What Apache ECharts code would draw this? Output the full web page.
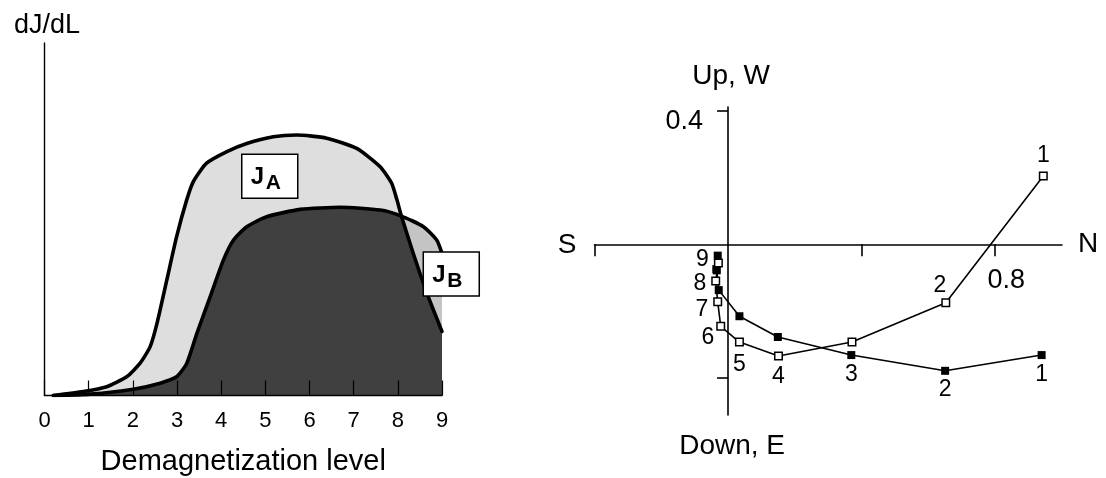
<!DOCTYPE html>
<html>
<head>
<meta charset="utf-8">
<script src="https://cdn.jsdelivr.net/npm/echarts@6/dist/echarts.min.js"></script>
<style>
  html, body { margin: 0; padding: 0; background: #fff; }
  #chart { width: 1106px; height: 478px; }
</style>
</head>
<body>
<div id="chart"></div>
<script>
// ---- Left panel: dJ/dL spectra of the two components vs demagnetization level
const demagTicks = ['0', '1', '2', '3', '4', '5', '6', '7', '8', '9'];
const curveA = [
  [0.2, 0], [0.88, 1.1], [1.41, 2.5], [1.86, 5.3], [2.16, 9.1], [2.39, 13.8],
  [2.54, 20.1], [2.77, 32.8], [2.99, 45.0], [3.22, 55.5], [3.37, 60.7], [3.67, 65.9],
  [4.13, 69.2], [4.58, 71.5], [5.18, 73.4], [5.71, 73.9], [6.39, 73.0], [7.07, 70.1],
  [7.60, 64.9], [7.86, 60.2], [7.98, 55.5], [8.08, 50.9], [8.35, 40.3], [8.66, 29.0],
  [9.0, 18.2]
];
const curveB = [
  [0.2, 0], [1.03, 0.4], [2.01, 1.8], [2.62, 3.5], [2.99, 5.3], [3.22, 9.1],
  [3.45, 17.6], [3.75, 28.0], [4.05, 38.4], [4.28, 44.1], [4.58, 47.9], [5.03, 50.7],
  [5.79, 52.8], [6.70, 53.4], [7.60, 52.6], [8.08, 50.9], [8.58, 47.9], [8.88, 44.1],
  [9.0, 40.3]
];

// ---- Right panel: orthogonal projection of the demagnetization steps
const stepNames = ['1', '2', '3', '4', '5', '6', '7', '8', '9'];
const openNorth  = [0.944, 0.652, 0.371, 0.151, 0.034, -0.022, -0.031, -0.037, -0.029];
const openUp     = [0.204, -0.175, -0.292, -0.334, -0.292, -0.245, -0.172, -0.110, -0.056];
const filledNorth = [0.939, 0.650, 0.369, 0.149, 0.034, -0.028, -0.034, -0.035, -0.031];
const filledUp    = [-0.331, -0.378, -0.331, -0.277, -0.215, -0.137, -0.078, -0.074, -0.034];
const northTickLabels = ['0.8'];
const upTickLabels = ['0.4'];

const FONT = '"Liberation Sans", Arial, Helvetica, sans-serif';
const INK = '#000';

// where each step number sits next to its square
const openLabelLayout = {
  '1': { position: 'top' },
  '2': { position: 'top', offset: [-6, 3] },
  '4': { position: 'bottom' },
  '5': { position: 'bottom', offset: [0, 2] },
  '6': { position: 'left', offset: [3, 11] },
  '7': { position: 'left', offset: [0, 8] },
  '8': { position: 'left', offset: [0, 3] },
  '9': { position: 'left', offset: [0, -3] }
};
const filledLabelLayout = {
  '1': { position: 'bottom' },
  '2': { position: 'bottom', offset: [0, -1] },
  '3': { position: 'bottom' }
};

function stepSeriesData(xs, ys, layout) {
  return xs.map((x, i) => {
    const name = stepNames[i];
    const item = { name: name, value: [x, ys[i]] };
    if (layout[name]) {
      item.label = Object.assign({ show: true }, layout[name]);
    }
    return item;
  });
}

// region of J_B lying outside J_A: right of the point where the outlines cross
function outsideBand(api) {
  const key = p => p[0] + ',' + p[1];
  const aKeys = new Set(curveA.map(key));
  let crossIdxB = curveB.length - 1;
  while (crossIdxB > 0 && !aKeys.has(key(curveB[crossIdxB]))) crossIdxB--;
  const cross = curveB[crossIdxB];
  const crossIdxA = curveA.findIndex(p => key(p) === key(cross));
  const upper = curveB.slice(crossIdxB);
  const lower = curveA.slice(crossIdxA).reverse();
  return upper.concat(lower).map(p => api.coord(p));
}

const chart = echarts.init(document.getElementById('chart'), null, { renderer: 'canvas' });

const stepLabelStyle = {
  show: false,
  formatter: '{b}',
  color: INK,
  fontFamily: FONT,
  fontSize: 23,
  lineHeight: 22,
  distance: 5
};

const option = {
  animation: false,
  backgroundColor: '#fff',
  textStyle: { fontFamily: FONT, color: INK },
  grid: [
    { left: 44.5, top: 43, width: 397.5, height: 352.5, containLabel: false, outerBoundsMode: 'none' },
    { left: 594.5, top: 107, width: 467.5, height: 308, containLabel: false, outerBoundsMode: 'none' }
  ],
  xAxis: [
    {
      gridIndex: 0, type: 'value', min: 0, max: 9, interval: 1, z: 10,
      name: 'Demagnetization level', nameLocation: 'middle', nameGap: 52,
      nameMoveOverlap: false,
      nameTextStyle: { fontFamily: FONT, fontSize: 29, lineHeight: 29, color: INK },
      axisLine: { show: true, onZero: false, lineStyle: { color: INK, width: 1.4 } },
      axisTick: { show: true, inside: true, length: 15, lineStyle: { color: INK, width: 1.2 } },
      axisLabel: {
        margin: 14, fontFamily: FONT, fontSize: 22, lineHeight: 22, color: INK,
        formatter: v => demagTicks[Math.round(v)]
      },
      splitLine: { show: false }
    },
    {
      gridIndex: 1, type: 'value', min: -0.4, max: 1.0, z: 10,
      name: 'N', nameLocation: 'end', nameGap: 16, nameMoveOverlap: false,
      nameTextStyle: { fontFamily: FONT, fontSize: 28, color: INK, verticalAlign: 'middle', padding: [4, 0, 0, 0] },
      axisLine: { show: true, onZero: true, lineStyle: { color: INK, width: 1.6 } },
      axisTick: { show: true, inside: false, length: 12, customValues: [-0.4, 0.4, 0.8], lineStyle: { color: INK, width: 1.6 } },
      axisLabel: { show: false },
      splitLine: { show: false }
    }
  ],
  yAxis: [
    {
      gridIndex: 0, type: 'value', min: 0, max: 100, z: 10,
      name: 'dJ/dL', nameLocation: 'end', nameGap: 4, nameMoveOverlap: false,
      nameTextStyle: { fontFamily: FONT, fontSize: 27, lineHeight: 27, color: INK, align: 'center', padding: [0, 0, 0, 5] },
      axisLine: { show: true, onZero: false, lineStyle: { color: INK, width: 1.4 } },
      axisTick: { show: false },
      axisLabel: { show: false },
      splitLine: { show: false }
    },
    {
      gridIndex: 1, type: 'value', min: -0.51, max: 0.41, z: 10,
      name: 'Up, W', nameLocation: 'end', nameGap: 16, nameMoveOverlap: false,
      nameTextStyle: { fontFamily: FONT, fontSize: 28, lineHeight: 30, color: INK, align: 'center', padding: [0, 0, 0, 6] },
      axisLine: { show: true, onZero: true, lineStyle: { color: INK, width: 1.6 } },
      axisTick: { show: true, inside: false, length: 11, customValues: [-0.4, 0.4], lineStyle: { color: INK, width: 1.6 } },
      axisLabel: { show: false },
      splitLine: { show: false }
    }
  ],
  series: [
    // fills of the two spectra
    {
      type: 'line', xAxisIndex: 0, yAxisIndex: 0, data: curveA, z: 1,
      showSymbol: false, symbol: 'none', smooth: 0.2, silent: true,
      lineStyle: { width: 0, opacity: 0 },
      areaStyle: { color: '#dedede', opacity: 1 }
    },
    {
      type: 'line', xAxisIndex: 0, yAxisIndex: 0, data: curveB, z: 2,
      showSymbol: false, symbol: 'none', smooth: 0.2, silent: true,
      lineStyle: { width: 0, opacity: 0 },
      areaStyle: { color: '#404040', opacity: 1 }
    },
    {
      type: 'custom', xAxisIndex: 0, yAxisIndex: 0, z: 3, silent: true,
      data: [[9, 0]],
      renderItem: (params, api) => ({
        type: 'polygon',
        shape: { points: outsideBand(api) },
        style: { fill: '#c4c4c4', stroke: null }
      })
    },
    // outlines of the two spectra
    {
      type: 'line', xAxisIndex: 0, yAxisIndex: 0, data: curveB, z: 4,
      showSymbol: false, symbol: 'none', smooth: 0.2, silent: true,
      lineStyle: { color: INK, width: 3.6, cap: 'round', join: 'round' }
    },
    {
      type: 'line', xAxisIndex: 0, yAxisIndex: 0, data: curveA, z: 5,
      showSymbol: false, symbol: 'none', smooth: 0.2, silent: true,
      lineStyle: { color: INK, width: 3.6, cap: 'round', join: 'round' }
    },
    // projection paths
    {
      type: 'line', xAxisIndex: 1, yAxisIndex: 1, z: 6,
      data: stepSeriesData(filledNorth, filledUp, filledLabelLayout),
      symbol: 'rect', symbolSize: 8, showSymbol: true, silent: true,
      lineStyle: { color: INK, width: 1.6 },
      itemStyle: { color: INK, borderColor: INK, borderWidth: 0 },
      label: stepLabelStyle
    },
    {
      type: 'line', xAxisIndex: 1, yAxisIndex: 1, z: 7,
      data: stepSeriesData(openNorth, openUp, openLabelLayout),
      symbol: 'rect', symbolSize: 7.5, showSymbol: true, silent: true,
      lineStyle: { color: INK, width: 1.6 },
      itemStyle: { color: '#fff', borderColor: INK, borderWidth: 1.5 },
      label: stepLabelStyle
    }
  ]
};

chart.setOption(option);

// component tags, tick values and the remaining compass words
const TOP_Z = 100;
function tagBox(center, sub) {
  return {
    type: 'group', x: center[0] - 28, y: center[1] - 22, z: TOP_Z,
    children: [
      { type: 'rect', z: TOP_Z, shape: { x: 0, y: 0, width: 56, height: 44 },
        style: { fill: '#fff', stroke: INK, lineWidth: 1.5 } },
      { type: 'text', z: TOP_Z + 1, x: 9, y: 23,
        style: { text: 'J', fill: INK, font: 'bold 24px ' + FONT, verticalAlign: 'middle', align: 'left' } },
      { type: 'text', z: TOP_Z + 1, x: 24, y: 29,
        style: { text: sub, fill: INK, font: 'bold 21px ' + FONT, verticalAlign: 'middle', align: 'left' } }
    ]
  };
}
function word(at, text, size, align) {
  return {
    type: 'text', x: at[0], y: at[1], z: TOP_Z,
    style: { text: text, fill: INK, font: size + 'px ' + FONT, align: align, verticalAlign: 'middle' }
  };
}

const tagAAt = chart.convertToPixel({ gridIndex: 0 }, [5.1, 62.2]);
const tagBAt = chart.convertToPixel({ gridIndex: 0 }, [9.21, 34.5]);
const southEnd = chart.convertToPixel({ gridIndex: 1 }, [-0.4, 0]);
const downEnd = chart.convertToPixel({ gridIndex: 1 }, [0, -0.51]);
const northTick = chart.convertToPixel({ gridIndex: 1 }, [Number(northTickLabels[0]), 0]);
const upTick = chart.convertToPixel({ gridIndex: 1 }, [0, Number(upTickLabels[0])]);

chart.setOption({
  graphic: [
    tagBox(tagAAt, 'A'),
    tagBox(tagBAt, 'B'),
    word([southEnd[0] - 18, southEnd[1] + 1], 'S', 28, 'right'),
    word([downEnd[0] + 4, downEnd[1] + 31], 'Down, E', 28, 'center'),
    word([northTick[0] + 11, northTick[1] + 36], northTickLabels[0], 27, 'center'),
    word([upTick[0] - 25, upTick[1] + 11], upTickLabels[0], 27, 'right')
  ]
});
</script>
</body>
</html>
